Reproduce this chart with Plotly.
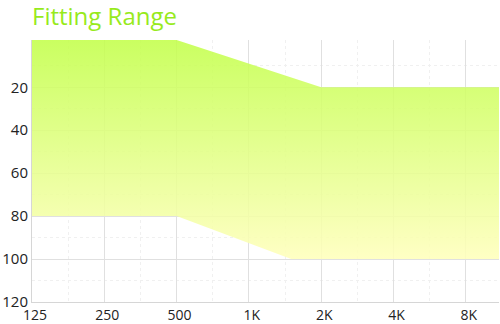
import numpy as np
import plotly.graph_objects as go

# Frequencies (Hz) and hearing-level boundaries (dB HL) of the fitting range
upper_freq = [125, 500, 2000, 11000]
upper_db = [-2, -2, 20, 20]
lower_freq = [125, 500, 1500, 11000]
lower_db = [80, 80, 100, 100]

tick_freqs = [125, 250, 500, 1000, 2000, 4000, 8000]
tick_labels = ["125", "250", "500", "1K", "2K", "4K", "8K"]
minor_freqs = [125 * 2 ** (i + 0.5) for i in range(7)]
y_ticks = [20, 40, 60, 80, 100, 120]
y_minor = [10, 30, 50, 70, 90, 110]

poly_x = upper_freq + lower_freq[::-1]
poly_y = upper_db + lower_db[::-1]

fig = go.Figure()
fig.add_trace(go.Scatter(
    x=poly_x, y=poly_y, mode="lines", fill="toself",
    line=dict(width=0, color="rgba(0,0,0,0)"),
    fillgradient=dict(type="vertical",
                      colorscale=[[0, "rgba(255,255,188,0.88)"],
                                  [1, "rgba(195,255,75,0.88)"]]),
    hoverinfo="skip", showlegend=False,
))

font_family = "Open Sans, Noto Sans, sans-serif"
fig.update_layout(
    width=500, height=324,
    margin=dict(l=32, r=1, t=40, b=22, autoexpand=False),
    paper_bgcolor="white", plot_bgcolor="white",
    title=dict(text="Fitting Range", x=32 / 500, xanchor="left", xref="container",
               y=1 - 16.5 / 324, yanchor="middle", yref="container",
               font=dict(family=font_family, size=24, color="#97ea1c")),
    xaxis=dict(type="log", range=[np.log10(125), np.log10(11000)],
               tickvals=tick_freqs, ticktext=tick_labels, automargin=False,
               showgrid=True, gridcolor="#e0e0e0", gridwidth=1,
               showline=True, linecolor="#d6d6d6", linewidth=1,
               ticks="", zeroline=False, ticklabelstandoff=0, ticklabelshift=3,
               tickfont=dict(family=font_family, size=14, color="#222"),
               minor=dict(tickmode="array", tickvals=minor_freqs, showgrid=True,
                          gridcolor="#f0f0f0", griddash="dot", gridwidth=1)),
    yaxis=dict(range=[120, -2], tickvals=y_ticks, automargin=False,
               showgrid=True, gridcolor="#e0e0e0", gridwidth=1,
               showline=True, linecolor="#d6d6d6", linewidth=1,
               ticks="", zeroline=False,
               tickfont=dict(family=font_family, size=15, color="#222"),
               minor=dict(tickmode="array", tickvals=y_minor, showgrid=True,
                          gridcolor="#f0f0f0", griddash="dot", gridwidth=1)),
)

fig.write_html("out.html")
